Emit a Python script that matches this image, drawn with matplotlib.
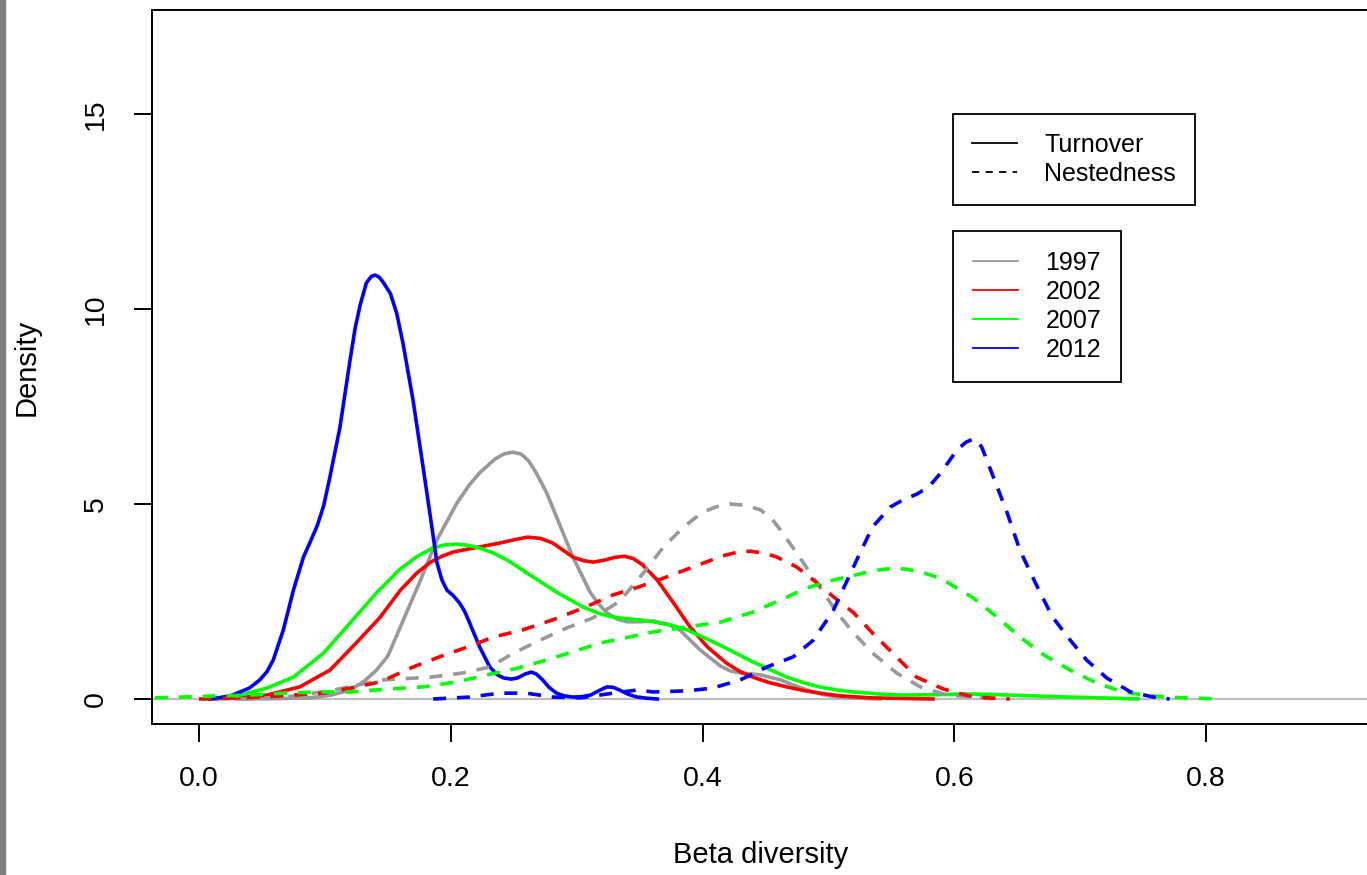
import matplotlib
matplotlib.use("Agg")
import matplotlib.pyplot as plt
from matplotlib.lines import Line2D
from matplotlib.patches import Rectangle

plt.rcParams['font.family'] = ['Liberation Sans', 'DejaVu Sans']

# --- data (density curves) ---
years = ['1997', '2002', '2007', '2012']
year_colors = ['#999999', '#FF0000', '#00FF00', '#0000FF']

# Turnover (solid)
t1997_x = [0.03, 0.06, 0.088, 0.105, 0.12, 0.131, 0.141, 0.150, 0.160, 0.176, 0.189, 0.205, 0.215, 0.223,
           0.235, 0.242, 0.249, 0.256, 0.262, 0.268, 0.276, 0.284, 0.297, 0.311, 0.318, 0.324, 0.332,
           0.340, 0.350, 0.361, 0.372, 0.382, 0.398, 0.414, 0.422, 0.430, 0.446, 0.462, 0.472, 0.483,
           0.495, 0.507, 0.541]
t1997_y = [0.0, 0.01, 0.03, 0.1, 0.23, 0.45, 0.74, 1.1, 1.85, 3.05, 4.08, 5.03, 5.5, 5.8,
           6.15, 6.28, 6.33, 6.28, 6.1, 5.79, 5.3, 4.67, 3.64, 2.72, 2.42, 2.21, 2.05,
           1.98, 1.98, 2.0, 1.92, 1.77, 1.26, 0.85, 0.72, 0.67, 0.62, 0.49, 0.36, 0.23,
           0.12, 0.05, 0.0]

t2002_x = [0.009, 0.027, 0.054, 0.080, 0.104, 0.125, 0.144, 0.160, 0.173, 0.184, 0.193, 0.202, 0.213,
           0.223, 0.239, 0.250, 0.261, 0.271, 0.281, 0.289, 0.297, 0.305, 0.313, 0.322, 0.330, 0.338,
           0.345, 0.352, 0.364, 0.377, 0.390, 0.404, 0.419, 0.430, 0.440, 0.453, 0.467, 0.480, 0.493,
           0.510, 0.533, 0.583]
t2002_y = [0.0, 0.02, 0.1, 0.31, 0.74, 1.44, 2.10, 2.79, 3.23, 3.51, 3.66, 3.77, 3.84,
           3.90, 4.0, 4.08, 4.15, 4.12, 4.0, 3.82, 3.64, 3.55, 3.51, 3.56, 3.63, 3.66,
           3.6, 3.45, 3.05, 2.46, 1.85, 1.33, 0.92, 0.7, 0.56, 0.42, 0.31, 0.22, 0.15,
           0.08, 0.03, 0.0]

t2007_x = [0.005, 0.027, 0.054, 0.075, 0.099, 0.120, 0.141, 0.159, 0.173, 0.186, 0.195, 0.205, 0.214,
           0.223, 0.234, 0.245, 0.263, 0.284, 0.305, 0.318, 0.329, 0.339, 0.349, 0.361, 0.374, 0.388,
           0.414, 0.440, 0.467, 0.480, 0.493, 0.507, 0.520, 0.540, 0.559, 0.585, 0.610, 0.636, 0.663,
           0.690, 0.716, 0.746]
t2007_y = [0.0, 0.05, 0.28, 0.56, 1.18, 1.95, 2.72, 3.31, 3.65, 3.88, 3.95, 3.97, 3.94,
           3.87, 3.74, 3.56, 3.18, 2.74, 2.36, 2.19, 2.10, 2.06, 2.03, 1.98, 1.9, 1.77,
           1.38, 0.95, 0.56, 0.42, 0.31, 0.23, 0.18, 0.13, 0.10, 0.11, 0.13, 0.11, 0.08,
           0.05, 0.03, 0.0]

t2012_x = [0.009, 0.025, 0.040, 0.048, 0.054, 0.059, 0.067, 0.075, 0.083, 0.088, 0.094, 0.099, 0.104,
           0.112, 0.120, 0.124, 0.128, 0.133, 0.137, 0.140, 0.143, 0.146, 0.152, 0.157, 0.162, 0.170,
           0.178, 0.185, 0.189, 0.193, 0.197, 0.202, 0.207, 0.211, 0.215, 0.223, 0.231, 0.237, 0.242,
           0.248, 0.253, 0.259, 0.264, 0.268, 0.273, 0.278, 0.284, 0.290, 0.297, 0.304, 0.311, 0.318,
           0.324, 0.329, 0.334, 0.341, 0.348, 0.356, 0.364]
t2012_y = [0.0, 0.08, 0.28, 0.48, 0.70, 1.0, 1.77, 2.79, 3.64, 4.0, 4.45, 4.95, 5.69,
           6.97, 8.69, 9.5, 10.1, 10.67, 10.84, 10.87, 10.82, 10.7, 10.4, 9.9, 9.13, 7.67,
           5.95, 4.41, 3.5, 3.05, 2.79, 2.65, 2.46, 2.25, 1.95, 1.33, 0.82, 0.62, 0.54,
           0.51, 0.54, 0.64, 0.69, 0.64, 0.49, 0.3, 0.15, 0.08, 0.05, 0.06, 0.10, 0.22,
           0.31, 0.3, 0.23, 0.12, 0.05, 0.02, 0.0]

# Nestedness (dashed)
n1997_x = [0.033, 0.07, 0.107, 0.146, 0.184, 0.210, 0.231, 0.250, 0.271, 0.292, 0.313, 0.334, 0.353,
           0.369, 0.385, 0.400, 0.411, 0.422, 0.434, 0.446, 0.455, 0.462, 0.477, 0.493, 0.507, 0.520,
           0.535, 0.554, 0.573, 0.594, 0.623, 0.635]
n1997_y = [0.0, 0.05, 0.23, 0.49, 0.56, 0.67, 0.82, 1.18, 1.51, 1.82, 2.08, 2.5, 3.23,
           3.90, 4.41, 4.79, 4.93, 5.0, 4.97, 4.85, 4.62, 4.33, 3.64, 2.87, 2.21, 1.69,
           1.18, 0.67, 0.31, 0.10, 0.03, 0.0]

n2002_x = [0.0, 0.05, 0.099, 0.125, 0.144, 0.170, 0.191, 0.213, 0.234, 0.257, 0.281, 0.305, 0.329,
           0.349, 0.369, 0.392, 0.416, 0.427, 0.438, 0.449, 0.459, 0.475, 0.488, 0.504, 0.520, 0.535,
           0.554, 0.570, 0.591, 0.615, 0.644]
n2002_y = [0.0, 0.05, 0.15, 0.31, 0.44, 0.82, 1.08, 1.33, 1.59, 1.77, 2.03, 2.33, 2.67,
           2.87, 3.10, 3.38, 3.67, 3.76, 3.79, 3.74, 3.64, 3.38, 3.05, 2.62, 2.21, 1.69,
           1.08, 0.56, 0.26, 0.05, 0.0]

n2007_x = [-0.035, -0.013, 0.014, 0.04, 0.067, 0.094, 0.12, 0.152, 0.178, 0.205, 0.229, 0.253, 0.276,
           0.297, 0.319, 0.342, 0.361, 0.388, 0.414, 0.440, 0.462, 0.483, 0.504, 0.528, 0.540, 0.551,
           0.562, 0.573, 0.584, 0.594, 0.615, 0.634, 0.652, 0.671, 0.692, 0.713, 0.734, 0.756, 0.782,
           0.813]
n2007_y = [0.03, 0.05, 0.08, 0.10, 0.15, 0.18, 0.18, 0.26, 0.31, 0.44, 0.62, 0.79, 1.0,
           1.21, 1.44, 1.59, 1.72, 1.85, 1.97, 2.23, 2.54, 2.85, 3.05, 3.23, 3.31, 3.35,
           3.33, 3.26, 3.15, 3.0, 2.59, 2.10, 1.59, 1.13, 0.74, 0.41, 0.18, 0.08, 0.03,
           0.0]

n2012_x = [0.186, 0.215, 0.239, 0.26, 0.281, 0.303, 0.329, 0.348, 0.361, 0.388, 0.408, 0.430, 0.451,
           0.472, 0.488, 0.504, 0.515, 0.525, 0.535, 0.549, 0.560, 0.570, 0.580, 0.589, 0.602, 0.609,
           0.615, 0.619, 0.622, 0.631, 0.642, 0.652, 0.666, 0.678, 0.692, 0.705, 0.721, 0.740, 0.758,
           0.771]
n2012_y = [0.0, 0.05, 0.15, 0.15, 0.05, 0.03, 0.15, 0.23, 0.18, 0.21, 0.28, 0.49, 0.82,
           1.08, 1.51, 2.28, 3.05, 3.74, 4.41, 4.92, 5.12, 5.25, 5.45, 5.79, 6.38, 6.58,
           6.67, 6.6, 6.44, 5.69, 4.77, 3.82, 2.87, 2.10, 1.51, 1.0, 0.54, 0.18, 0.05,
           0.0]

turnover = [(t1997_x, t1997_y), (t2002_x, t2002_y), (t2007_x, t2007_y), (t2012_x, t2012_y)]
nested = [(n1997_x, n1997_y), (n2002_x, n2002_y), (n2007_x, n2007_y), (n2012_x, n2012_y)]

xticks = [0.0, 0.2, 0.4, 0.6, 0.8]
yticks = [0, 5, 10, 15]

# --- figure ---
W, H = 1367, 875
fig = plt.figure(figsize=(W / 100, H / 100), dpi=100)
fig.patches.append(Rectangle((0, 0), 5 / W, 1, transform=fig.transFigure, color='#808080'))

ax_l, ax_r, ax_t, ax_b = 152, 1395, 10, 724
ax = fig.add_axes([ax_l / W, 1 - ax_b / H, (ax_r - ax_l) / W, (ax_b - ax_t) / H])
ax.set_xlim(-0.0373, 0.95)
ax.set_ylim(-0.641, 17.667)

ax.axhline(0, color='#BEBEBE', lw=1.6, zorder=1)

lw = 2.6
dash = (0, (3.6, 3.0))
for (x, y), c in zip(turnover, year_colors):
    ax.plot(x, y, color=c, lw=lw, solid_joinstyle='round', zorder=2)
for (x, y), c in zip(nested, year_colors):
    ax.plot(x, y, color=c, lw=lw, linestyle=dash, zorder=2)

for s in ['left', 'bottom', 'top', 'right']:
    ax.spines[s].set_linewidth(1.4)

ax.set_xticks(xticks)
ax.set_xticklabels([f'{v:.1f}' for v in xticks])
ax.set_yticks(yticks)
ax.set_yticklabels([str(v) for v in yticks])
ax.tick_params(axis='both', direction='out', length=13, width=1.4, labelsize=20.5)
ax.tick_params(axis='x', pad=17)
ax.tick_params(axis='y', pad=18)
for lab in ax.get_yticklabels():
    lab.set_rotation(90)
    lab.set_va('center')

ax.set_xlabel('Beta diversity', fontsize=21, va='center')
ax.xaxis.set_label_coords(0.49, (ax_b - 855) / (ax_b - ax_t))
ax.set_ylabel('Density', fontsize=21, va='center')
ax.yaxis.set_label_coords((27 - ax_l) / (ax_r - ax_l), 0.5)

# legends
type_handles = [Line2D([], [], color='black', lw=1.3),
                Line2D([], [], color='black', lw=1.3, linestyle=(0, (4, 3.5)))]
leg1 = ax.legend(type_handles, ['Turnover', 'Nestedness'], loc='upper left',
                 bbox_to_anchor=(953 / W, 1 - 114 / H), bbox_transform=fig.transFigure,
                 fontsize=18, frameon=True, fancybox=False, edgecolor='black', framealpha=1,
                 handlelength=1.8, handletextpad=1.1, labelspacing=0.2, borderpad=0.75,
                 borderaxespad=0)
leg1.get_frame().set_linewidth(1.3)
ax.add_artist(leg1)

year_handles = [Line2D([], [], color=c, lw=1.3) for c in year_colors]
leg2 = ax.legend(year_handles, years, loc='upper left',
                 bbox_to_anchor=(953 / W, 1 - 231 / H), bbox_transform=fig.transFigure,
                 fontsize=18, frameon=True, fancybox=False, edgecolor='black', framealpha=1,
                 handlelength=1.8, handletextpad=1.1, labelspacing=0.2, borderpad=0.8,
                 borderaxespad=0)
leg2.get_frame().set_linewidth(1.3)

fig.savefig('out.png', dpi=100)
